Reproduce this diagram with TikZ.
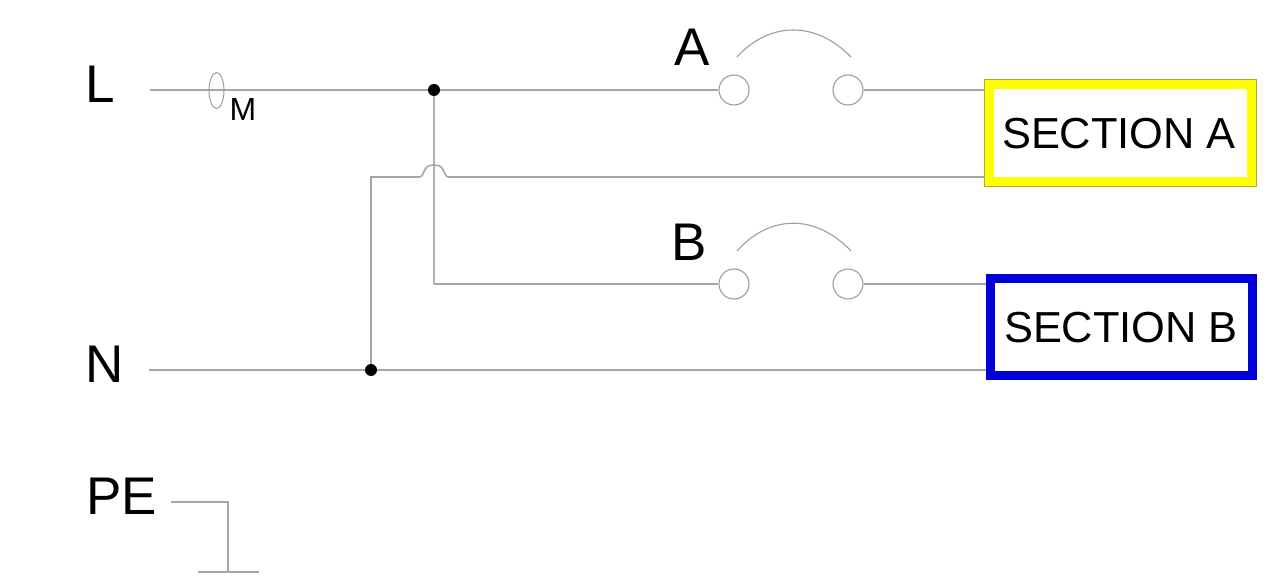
\documentclass[tikz,border=0pt]{standalone}
\usepackage{fontspec}
\usetikzlibrary{shapes.geometric}
\setmainfont{Liberation Sans}
\definecolor{secyellow}{RGB}{255,255,0}
\definecolor{secblue}{RGB}{0,0,215}
\definecolor{edgeolive}{RGB}{170,170,60}
\begin{document}
\begin{tikzpicture}[x=1pt,y=-1pt,
  wire/.style={draw=black!35,line width=1.6pt},
  heavywire/.style={draw=black!30,line width=2.3pt},
  thinwire/.style={draw=black!38,line width=1.1pt},
  terminal/.style={circle,draw=black!38,line width=1.1pt,fill=white,minimum size=30pt,inner sep=0pt},
  junction/.style={circle,fill=black,minimum size=12pt,inner sep=0pt},
  biglabel/.style={inner sep=0pt,text=black,font=\fontsize{53}{53}\selectfont},
  secbox/.style={inner sep=0pt,rectangle,fill=white,minimum width=262pt,minimum height=97pt,line width=9pt},
  sectext/.style={inner sep=0pt,font=\fontsize{43.4}{44}\selectfont,text=black}]
\useasboundingbox (0,0) rectangle (1271,585);
\fill[white] (0,0) rectangle (1271,585);
% coordinates
\coordinate (Lstart) at (150,90);
\coordinate (Nstart) at (149,370);
\coordinate (jog) at (371,177);
\coordinate (hopL) at (419,177);
\coordinate (hopR) at (449,177);
\coordinate (Bcorner) at (434,284);
\coordinate (PEstart) at (171,502);
\coordinate (PEcorner) at (228,502);
\coordinate (PEground) at (228,572);
\coordinate (gndL) at (198,572);
\coordinate (gndR) at (259,572);
% section boxes
\node[secbox,draw=secyellow,preaction={draw=edgeolive,line width=10.6pt}] (secA) at (1120.5,133) {};
\node[secbox,draw=secblue] (secB) at (1121,327) {};
\node[sectext] (secAt) at (1119,134) {SECTION A};
\node[sectext] (secBt) at (1121,328) {SECTION B};
% junctions and terminals
\node[junction] (j1) at (434,90) {};
\node[junction] (j2) at (371,370) {};
\node[terminal] (a1) at (734,90) {};
\node[terminal] (a2) at (848,90) {};
\node[terminal] (b1) at (734,284) {};
\node[terminal] (b2) at (848,284) {};
% wires
\draw[wire] (Lstart) -- (j1);
\draw[wire] (j1) -- (a1);
\draw[wire] (a2) -- (a2 -| secA.west);
\draw[heavywire] (j1) -- (Bcorner);
\draw[wire] (Bcorner) -- (b1);
\draw[wire] (b2) -- (b2 -| secB.west);
\draw[wire] (Nstart) -- (j2);
\draw[wire] (j2) -- (j2 -| secB.west);
\draw[wire] (j2) -- (jog) -- (hopL) .. controls (426,177) and (421,165) .. (434,165) .. controls (447,165) and (442,177) .. (hopR) -- (hopR -| secA.west);
% breakers
\draw[thinwire] (737,57) .. controls (770,21) and (816,21) .. (851,57);
\draw[thinwire] (737,251) .. controls (770,214) and (816,214) .. (851,251);
% sensor
\node[draw=black!38,line width=1pt,ellipse,minimum width=15pt,minimum height=36pt,inner sep=0pt] (ring) at (216.5,90.5) {};
% PE
\draw[wire] (PEstart) -- (PEcorner) -- (PEground);
\draw[wire] (gndL) -- (gndR);
% labels
\node[biglabel] (lL) at (100,84) {L};
\node[biglabel] (lN) at (105,364) {N};
\node[biglabel] (lPE) at (121.5,496.5) {PE};
\node[biglabel] (lA) at (692.5,47.5) {A};
\node[biglabel] (lB) at (689,242) {B};
\node[inner sep=0pt,text=black,font=\fontsize{32}{32}\selectfont] (lM) at (243,109) {M};
\end{tikzpicture}
\end{document}
